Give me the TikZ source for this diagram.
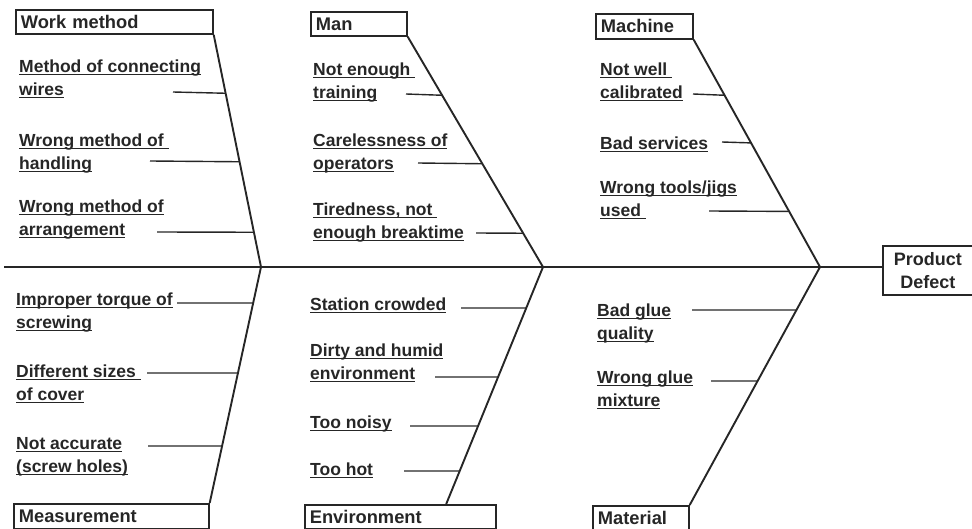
\documentclass[tikz,border=0pt]{standalone}
\usepackage{fontspec}
\setmainfont{Liberation Sans}
\usetikzlibrary{calc}
\definecolor{ink}{gray}{0.15}
\newcommand\uln[1]{\setbox0=\hbox{#1}\rlap{\color{ink}\rule[-2.6pt]{\wd0}{1.1pt}}\box0}
\begin{document}
\begin{tikzpicture}[x=1pt,y=-1pt,
  every node/.style={text=ink},
  catbox/.style={draw=ink, line width=1.7pt, anchor=north west, inner xsep=5pt, inner ysep=0pt,
    align=left, font=\fontsize{18.3}{22}\selectfont\bfseries},
  cause/.style={anchor=north west, inner sep=0pt, align=left,
    font=\fontsize{17.5}{23}\selectfont\bfseries},
  bone/.style={draw=ink, line width=1.9pt},
  conn/.style={draw=ink, line width=1.4pt}]
\useasboundingbox (0,0) rectangle (972,529);

% category boxes
\node[catbox, minimum height=24pt, text width=187pt] (wm) at (15,9) {Work method};
\node[catbox, minimum height=24pt, text width=86pt] (man) at (310,11) {Man};
\node[catbox, minimum height=25pt, text width=87pt] (mach) at (595,13) {Machine};
\node[catbox, minimum height=25pt, text width=185pt] (ms) at (13,503) {Measurement};
\node[catbox, minimum height=24pt, text width=181pt] (en) at (304,504) {Environment};
\node[catbox, minimum height=24pt, text width=86pt] (mat) at (592,505) {Material};
\node[catbox, anchor=west, align=left, minimum height=49pt, text width=100pt,
  font=\fontsize{18}{23}\selectfont\bfseries] (pd) at (882,270.5)
  {\makebox[80pt]{Product}\\\makebox[80pt]{Defect}};

% spine and junctions
\coordinate (sp0) at (4,267);
\coordinate (j1) at (261,267);
\coordinate (j2) at (543,267);
\coordinate (j3) at (820,267);
\draw[bone] (sp0) -- (j3 -| pd.west);

% bone tops
\coordinate (wmb) at (wm.south east);
\coordinate (manb) at (man.south east);
\coordinate (machb) at (mach.south east);
\coordinate (msb) at (ms.north east);
\coordinate (enb) at ($(en.north west)!0.738!(en.north east)$);
\coordinate (matb) at (mat.north east);

\draw[bone] (wmb) -- (j1);
\draw[bone] (manb) -- (j2);
\draw[bone] (machb) -- (j3);
\draw[bone] (msb) -- (j1);
\draw[bone] (enb) -- (j2);
\draw[bone] (matb) -- (j3);

% causes: work method
\node[cause] (w1) at (19,60) {\uln{Method of connecting}\\\uln{wires}};
\node[cause] (w2) at (19,134) {\uln{Wrong method of\ }\\\uln{handling}};
\node[cause] (w3) at (19,200) {\uln{Wrong method of}\\\uln{arrangement}};
% man
\node[cause] (m1) at (313,63) {\uln{Not enough\ }\\\uln{training}};
\node[cause] (m2) at (313,134) {\uln{Carelessness of}\\\uln{operators}};
\node[cause] (m3) at (313,203) {\uln{Tiredness, not\ }\\\uln{enough breaktime}};
% machine
\node[cause] (k1) at (600,63) {\uln{Not well\ }\\\uln{calibrated}};
\node[cause] (k2) at (600,137) {\uln{Bad services}};
\node[cause] (k3) at (600,181) {\uln{Wrong tools/jigs}\\\uln{used\ }};
% measurement
\node[cause] (s1) at (16,293) {\uln{Improper torque of}\\\uln{screwing}};
\node[cause] (s2) at (16,365) {\uln{Different sizes\ }\\\uln{of cover}};
\node[cause] (s3) at (16,437) {\uln{Not accurate}\\\uln{(screw holes)}};
% environment
\node[cause] (e1) at (310,298) {\uln{Station crowded}};
\node[cause] (e2) at (310,344) {\uln{Dirty and humid}\\\uln{environment}};
\node[cause] (e3) at (310,416) {\uln{Too noisy}};
\node[cause] (e4) at (310,463) {\uln{Too hot}};
% material
\node[cause] (t1) at (597,304) {\uln{Bad glue}\\\uln{quality}};
\node[cause] (t2) at (597,371) {\uln{Wrong glue}\\\uln{mixture}};

% connector free ends
\coordinate (w1e) at (173,92);
\coordinate (w2e) at (150,161);
\coordinate (w3e) at (157,232);
\coordinate (m1e) at (406,94);
\coordinate (m2e) at (418,163);
\coordinate (m3e) at (476,233);
\coordinate (k1e) at (693,94);
\coordinate (k2e) at (722,142);
\coordinate (k3e) at (709,211);
\coordinate (s1e) at (177,303);
\coordinate (s2e) at (147,373);
\coordinate (s3e) at (148,446);
\coordinate (e1e) at (461,308);
\coordinate (e2e) at (435,377);
\coordinate (e3e) at (410,426);
\coordinate (e4e) at (404,471);
\coordinate (t1e) at (692,310);
\coordinate (t2e) at (711,381);

\draw[conn] (w1e) -- ($(wmb)!0.2521!(j1)$);
\draw[conn] (w2e) -- ($(wmb)!0.5470!(j1)$);
\draw[conn] (w3e) -- ($(wmb)!0.8504!(j1)$);
\draw[conn] (m1e) -- ($(manb)!0.2543!(j2)$);
\draw[conn] (m2e) -- ($(manb)!0.5517!(j2)$);
\draw[conn] (m3e) -- ($(manb)!0.8534!(j2)$);
\draw[conn] (k1e) -- ($(machb)!0.2445!(j3)$);
\draw[conn] (k2e) -- ($(machb)!0.4541!(j3)$);
\draw[conn] (k3e) -- ($(machb)!0.7555!(j3)$);
\draw[conn] (s1e) -- ($(msb)!0.8475!(j1)$);
\draw[conn] (s2e) -- ($(msb)!0.5508!(j1)$);
\draw[conn] (s3e) -- ($(msb)!0.2415!(j1)$);
\draw[conn] (e1e) -- ($(enb)!0.8270!(j2)$);
\draw[conn] (e2e) -- ($(enb)!0.5359!(j2)$);
\draw[conn] (e3e) -- ($(enb)!0.3291!(j2)$);
\draw[conn] (e4e) -- ($(enb)!0.1392!(j2)$);
\draw[conn] (t1e) -- ($(matb)!0.8193!(j3)$);
\draw[conn] (t2e) -- ($(matb)!0.5210!(j3)$);
\end{tikzpicture}
\end{document}
